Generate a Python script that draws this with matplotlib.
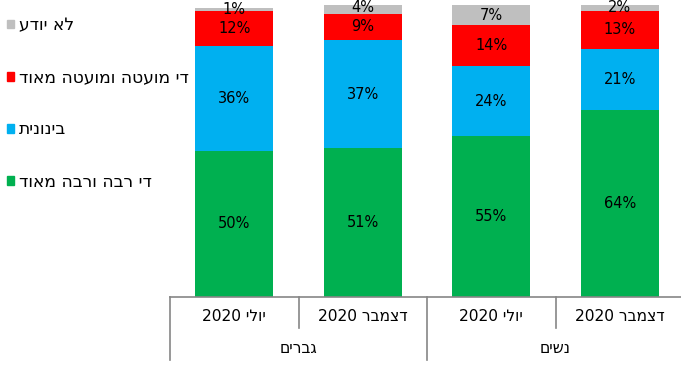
import matplotlib
matplotlib.use('Agg')
import matplotlib.pyplot as plt
from matplotlib.patches import Rectangle
import numpy as np

plt.rcParams['font.family'] = ['DejaVu Sans']

# bars left to right
dates = ['יולי 2020', 'דצמבר 2020', 'יולי 2020', 'דצמבר 2020']
groups = ['גברים', 'נשים']
series = ['די רבה ורבה מאוד', 'בינונית', 'די מועטה ומועטה מאוד', 'לא יודע']
colors = ['#00B050', '#00B0F0', '#FF0000', '#BFBFBF']

much = [50, 51, 55, 64]
medium = [36, 37, 24, 21]
little = [12, 9, 14, 13]
dontknow = [1, 4, 7, 2]
values = [much, medium, little, dontknow]


def vis(s):
    # matplotlib has no bidi: put hebrew words in visual order
    out = []
    for w in s.split(' ')[::-1]:
        if any('\u0590' <= ch <= '\u05ff' for ch in w):
            w = w[::-1]
        out.append(w)
    return ' '.join(out)


fig = plt.figure(figsize=(6.81, 3.73), dpi=100)
ax = fig.add_axes([170 / 681, 76 / 373, 514 / 681, 292 / 373])

x = np.arange(len(dates))
bottom = np.zeros(len(dates))
for vals, col in zip(values, colors):
    vals = np.array(vals)
    ax.bar(x, vals, 0.61, bottom=bottom, color=col)
    for xi, b, v in zip(x, bottom, vals):
        ax.text(xi, b + v / 2, f'{v}%', ha='center', va='center', fontsize=10.5)
    bottom += vals

ax.set_xlim(-0.5, 3.5)
ax.set_ylim(0, 100)
for s in ['top', 'right', 'left']:
    ax.spines[s].set_visible(False)
ax.spines['bottom'].set_color('#868686')
ax.spines['bottom'].set_linewidth(1.2)
ax.set_xticks([])
ax.set_yticks([])

tr = ax.get_xaxis_transform()
for xv, low in [(-0.5, -0.216), (0.5, -0.106), (1.5, -0.216), (2.5, -0.106), (3.5, -0.216)]:
    ax.plot([xv, xv], [0, low], color='#868686', lw=1.2, transform=tr, clip_on=False)
for xi, d in zip(x, dates):
    ax.text(xi, -0.068, vis(d), ha='center', va='center', fontsize=11.2, transform=tr)
for gi, g in enumerate(groups):
    ax.text(gi * 2 + 0.5, -0.178, vis(g), ha='center', va='center', fontsize=11.2, transform=tr)

handles = [Rectangle((0, 0), 1, 1, color=c) for c in colors][::-1]
labels = [vis(s) for s in series][::-1]
fig.legend(handles, labels, loc='upper left', bbox_to_anchor=(0.0, 0.975),
           frameon=False, fontsize=12.3, handlelength=0.42, handleheight=0.42,
           handletextpad=0.3, labelspacing=2.0, borderaxespad=0.0, borderpad=0.4)

fig.savefig('out.png', dpi=100)
